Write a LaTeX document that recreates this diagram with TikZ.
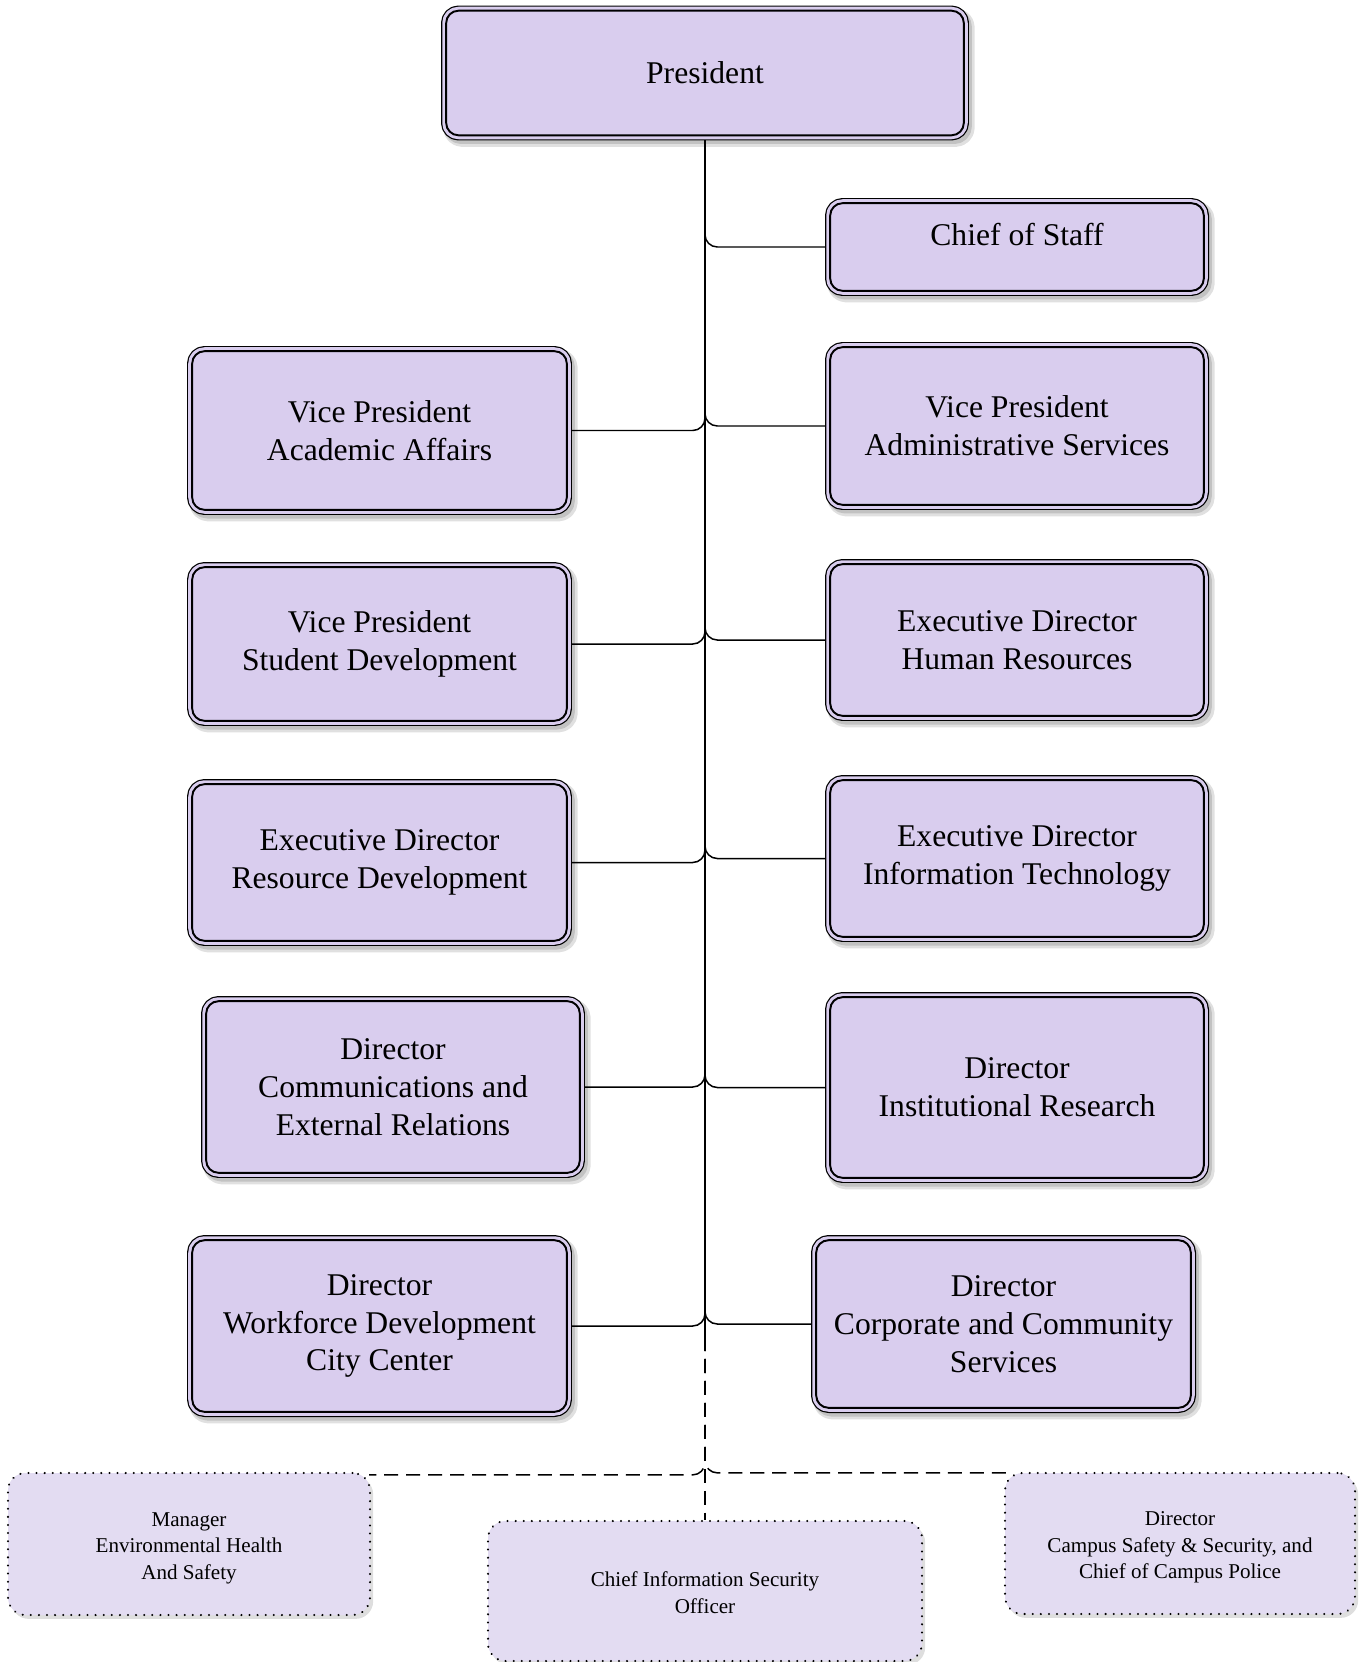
\documentclass[tikz,border=0pt]{standalone}
\usepackage{fontspec}
\setmainfont{Liberation Serif}
\usetikzlibrary{calc}

\definecolor{boxfill}{RGB}{217,205,238}
\definecolor{softfill}{RGB}{227,220,242}

\tikzset{
  % outer size of a box, given in drawing units
  boxsize/.style 2 args={minimum width={(#1-10.4)*0.02cm}, minimum height={(#2-10.4)*0.02cm}},
  softsize/.style 2 args={minimum width={#1*0.02cm}, minimum height={#2*0.02cm}},
  % solid boxes: double border (thin outer, thicker inner) and a grey shadow
  rolebox/.style={rectangle, rounded corners=7pt, fill=boxfill, draw=black,
    line width=1.1pt, line join=round, inner sep=0pt, outer sep=2.95pt,
    align=center, font=\fontsize{18}{21.5}\selectfont,
    preaction={fill=black!12, draw=black!12, line width=8pt,
      transform canvas={xshift=2.2pt, yshift=-2.6pt}},
    preaction={fill=black!24, draw=black!24, line width=5.9pt,
      transform canvas={xshift=1.6pt, yshift=-2pt}},
    preaction={draw=black, line width=5.9pt},
    preaction={draw=boxfill, line width=4.5pt}},
  % dotted boxes for the dotted-line reports
  softbox/.style={rectangle, rounded corners=10pt, fill=softfill, draw=black,
    line width=1.3pt, dash pattern=on 0.01pt off 4.6pt, line cap=round,
    inner sep=0pt, align=center, font=\fontsize{12}{15.1}\selectfont,
    preaction={fill=black!13, draw=none,
      transform canvas={xshift=1.8pt, yshift=-2.2pt}}},
  link/.style={draw=black, line width=0.85pt, rounded corners=7pt},
  dlink/.style={link, dash pattern=on 8pt off 4.5pt},
}

% text of the dotted boxes sits a little below the box centre
\newcommand{\lowtext}[1]{\raisebox{-2pt}[\height][\depth]{\begin{tabular}{@{}c@{}}#1\end{tabular}}}

\begin{document}
\begin{tikzpicture}[x=0.02cm, y=-0.02cm]
\useasboundingbox (0,0) rectangle (1364,1662);

% top of the chart
\node[rolebox, boxsize={528}{135}] (pres) at (705,73) {President};

% right column
\node[rolebox, boxsize={384}{98}]  (chief) at (1017,247)   {\raisebox{7pt}[\height][\depth]{Chief of Staff}};
\node[rolebox, boxsize={384}{168}] (vpas)  at (1017,426)   {Vice President\\Administrative Services};
\node[rolebox, boxsize={384}{162}] (edhr)  at (1017,640)   {Executive Director\\Human Resources};
\node[rolebox, boxsize={384}{167}] (edit)  at (1017,858.5) {Executive Director\\Information Technology};
\node[rolebox, boxsize={384}{191}] (dir)   at (1017,1087.5){Director\\Institutional Research};
\node[rolebox, boxsize={385}{178}] (dccs)  at (1003.5,1324){Director\\Corporate and Community\\Services};

% left column
\node[rolebox, boxsize={385}{169}] (vpaa)  at (379.5,430.5) {Vice President\\Academic Affairs};
\node[rolebox, boxsize={385}{164}] (vpsd)  at (379.5,644)   {Vice President\\Student Development};
\node[rolebox, boxsize={385}{167}] (edrd)  at (379.5,862.5) {Executive Director\\Resource Development};
\node[rolebox, boxsize={384}{182}] (dcer)  at (393,1087)    {Director\\Communications and\\External Relations};
\node[rolebox, boxsize={385}{182}] (dwd)   at (379.5,1326)  {Director\\Workforce Development\\City Center};

% dotted-line reports
\node[softbox, softsize={362}{142}] (mgr)  at (189,1544)    {\lowtext{Manager\\Environmental Health\\And Safety}};
\node[softbox, softsize={434}{140}] (ciso) at (705,1591)    {\lowtext{Chief Information Security\\Officer}};
\node[softbox, softsize={350}{141}] (dcs)  at (1180,1543.5) {\lowtext{Director\\Campus Safety \& Security, and\\Chief of Campus Police}};

% solid reporting lines
\coordinate (solidend) at (705,1337);
\draw[link] (pres.south) -- (solidend);
\foreach \n in {chief,vpas,edhr,edit,dir,dccs}
  \draw[link] (pres.south) |- (\n.west);
\foreach \n in {vpaa,vpsd,edrd,dcer,dwd}
  \draw[link] (pres.south) |- (\n.east);

% dashed reporting lines
\coordinate (mgrtip) at ($(mgr.north east)+(-2,3)$);
\coordinate (dcstip) at ($(dcs.north west)+(6,1)$);
\draw[dlink] (solidend) -- (ciso.north);
\draw[dlink] (solidend) |- (mgrtip);
\draw[dlink] (solidend) |- (dcstip);
\end{tikzpicture}
\end{document}
